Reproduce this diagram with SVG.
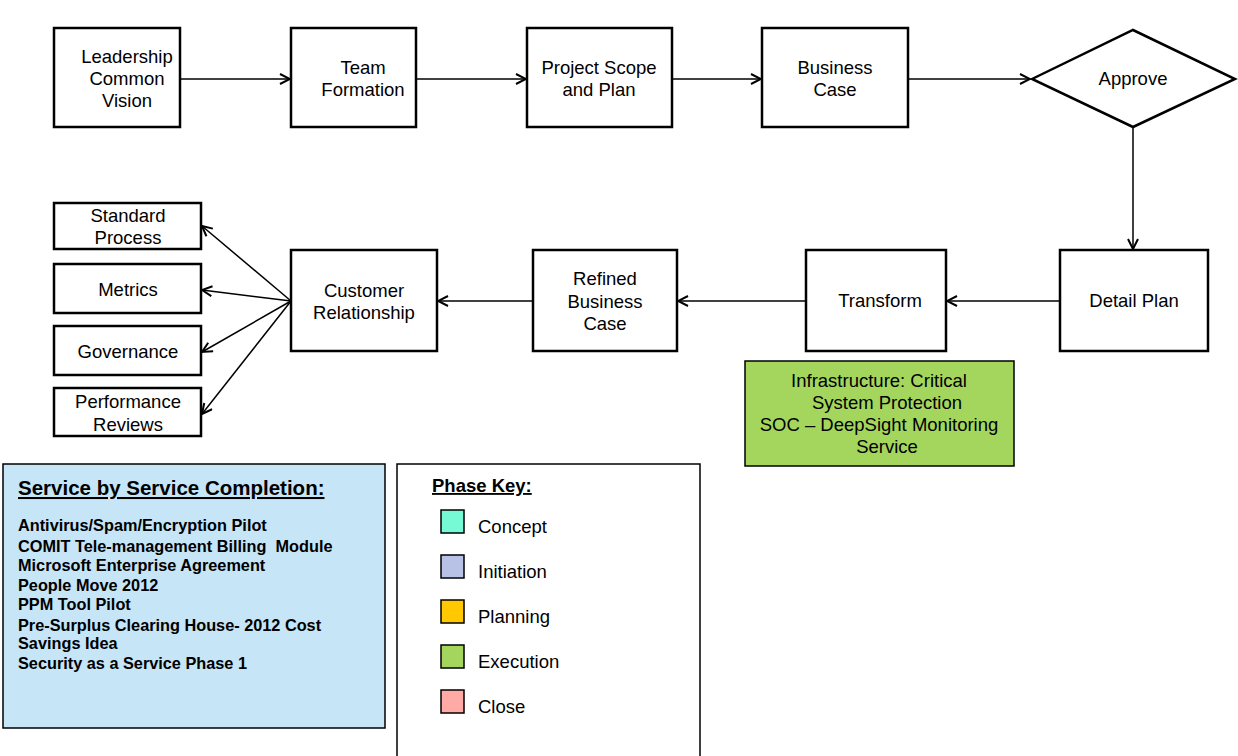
<svg xmlns="http://www.w3.org/2000/svg" width="1238" height="756" viewBox="0 0 1238 756">
<style>
.box{fill:#fff;stroke:#000;stroke-width:2.5}
.t{font-family:"Liberation Sans",Arial,sans-serif;font-size:18.5px;fill:#000;text-anchor:middle}
.c{stroke:#000;stroke-width:1.5;fill:none;marker-end:url(#ah)}
.lb{font-family:"Liberation Sans",Arial,sans-serif;font-size:16.3px;font-weight:bold;fill:#000}
.lk{font-family:"Liberation Sans",Arial,sans-serif;font-size:18.5px;fill:#000}
.sw{stroke:#000;stroke-width:1.5}
</style>
<defs>
<marker id="ah" viewBox="0 0 12 12" refX="11" refY="6" markerWidth="12" markerHeight="12" markerUnits="userSpaceOnUse" orient="auto">
<path d="M1,1 L11,6 L1,11" fill="none" stroke="#000" stroke-width="2"/>
</marker>
</defs>
<rect width="1238" height="756" fill="#fff"/>
<g id="connectors">
<line class="c" x1="180" y1="79" x2="290" y2="79"/>
<line class="c" x1="416" y1="79" x2="526" y2="79"/>
<line class="c" x1="672" y1="79" x2="761" y2="79"/>
<line class="c" x1="908" y1="79" x2="1030" y2="79"/>
<line class="c" x1="1133" y1="127" x2="1133" y2="249"/>
<line class="c" x1="1060" y1="301" x2="947" y2="301"/>
<line class="c" x1="806" y1="301" x2="678" y2="301"/>
<line class="c" x1="533" y1="301" x2="438" y2="301"/>
<line class="c" x1="291" y1="301" x2="202" y2="226"/>
<line class="c" x1="291" y1="301" x2="202" y2="290"/>
<line class="c" x1="291" y1="301" x2="202" y2="352"/>
<line class="c" x1="291" y1="301" x2="202" y2="414"/>
</g>
<g id="leadership"><rect class="box" x="54" y="28" width="126" height="99"/><text class="t" x="127" y="63">Leadership</text><text class="t" x="127" y="85">Common</text><text class="t" x="127" y="107">Vision</text></g>
<g id="team"><rect class="box" x="291" y="28" width="125" height="99"/><text class="t" x="363" y="74">Team</text><text class="t" x="363" y="96">Formation</text></g>
<g id="scope"><rect class="box" x="527" y="28" width="145" height="99"/><text class="t" x="599" y="74">Project Scope</text><text class="t" x="599" y="96">and Plan</text></g>
<g id="business"><rect class="box" x="762" y="28" width="146" height="99"/><text class="t" x="835" y="74">Business</text><text class="t" x="835" y="96">Case</text></g>
<g id="approve"><polygon class="box" points="1032,79 1133,30 1235,79 1133,127"/><text class="t" x="1133" y="85">Approve</text></g>
<g id="detail"><rect class="box" x="1060" y="250" width="148" height="101"/><text class="t" x="1134" y="307">Detail Plan</text></g>
<g id="transform"><rect class="box" x="806" y="250" width="140" height="101"/><text class="t" x="880" y="307">Transform</text></g>
<g id="refined"><rect class="box" x="533" y="250" width="144" height="101"/><text class="t" x="605" y="285">Refined</text><text class="t" x="605" y="308">Business</text><text class="t" x="605" y="330">Case</text></g>
<g id="customer"><rect class="box" x="291" y="250" width="146" height="101"/><text class="t" x="364" y="297">Customer</text><text class="t" x="364" y="319">Relationship</text></g>
<g id="standard"><rect class="box" x="54" y="203" width="147" height="46"/><text class="t" x="128" y="222">Standard</text><text class="t" x="128" y="244">Process</text></g>
<g id="metrics"><rect class="box" x="54" y="264" width="147" height="49"/><text class="t" x="128" y="296">Metrics</text></g>
<g id="governance"><rect class="box" x="54" y="326" width="147" height="49"/><text class="t" x="128" y="358">Governance</text></g>
<g id="performance"><rect class="box" x="54" y="388" width="147" height="48"/><text class="t" x="128" y="408">Performance</text><text class="t" x="128" y="431">Reviews</text></g>
<g id="infra"><rect x="745" y="361" width="269" height="105" fill="#A4D65E" stroke="#000" stroke-width="1.5"/><text class="t" x="879" y="387">Infrastructure: Critical</text><text class="t" x="887" y="409">System Protection</text><text class="t" x="879" y="431">SOC – DeepSight Monitoring</text><text class="t" x="887" y="453">Service</text></g>
<g id="service-list"><rect x="3" y="464" width="382" height="264" fill="#C6E5F7" stroke="#000" stroke-width="1.5"/>
<text x="18" y="495" font-family="Liberation Sans,Arial,sans-serif" font-size="20.5" font-weight="bold" text-decoration="underline">Service by Service Completion:</text>
<text class="lb" x="18" y="531">Antivirus/Spam/Encryption Pilot</text>
<text class="lb" x="18" y="552" xml:space="preserve">COMIT Tele-management Billing  Module</text>
<text class="lb" x="18" y="571">Microsoft Enterprise Agreement</text>
<text class="lb" x="18" y="591">People Move 2012</text>
<text class="lb" x="18" y="610">PPM Tool Pilot</text>
<text class="lb" x="18" y="631">Pre-Surplus Clearing House- 2012 Cost</text>
<text class="lb" x="18" y="649">Savings Idea</text>
<text class="lb" x="18" y="669">Security as a Service Phase 1</text>
</g>
<g id="phase-key"><rect x="397" y="464" width="303" height="300" fill="#fff" stroke="#000" stroke-width="1.5"/>
<text x="432" y="492" font-family="Liberation Sans,Arial,sans-serif" font-size="18.5" font-weight="bold" text-decoration="underline">Phase Key:</text>
<rect class="sw" x="441" y="510" width="23" height="23" fill="#76F9D5"/><text class="lk" x="478" y="533">Concept</text>
<rect class="sw" x="441" y="555" width="23" height="23" fill="#B8C2E6"/><text class="lk" x="478" y="578">Initiation</text>
<rect class="sw" x="441" y="600" width="23" height="23" fill="#FFC800"/><text class="lk" x="478" y="623">Planning</text>
<rect class="sw" x="441" y="645" width="23" height="23" fill="#A4D65E"/><text class="lk" x="478" y="668">Execution</text>
<rect class="sw" x="441" y="690" width="23" height="23" fill="#FFAAA5"/><text class="lk" x="478" y="713">Close</text>
</g>
</svg>
